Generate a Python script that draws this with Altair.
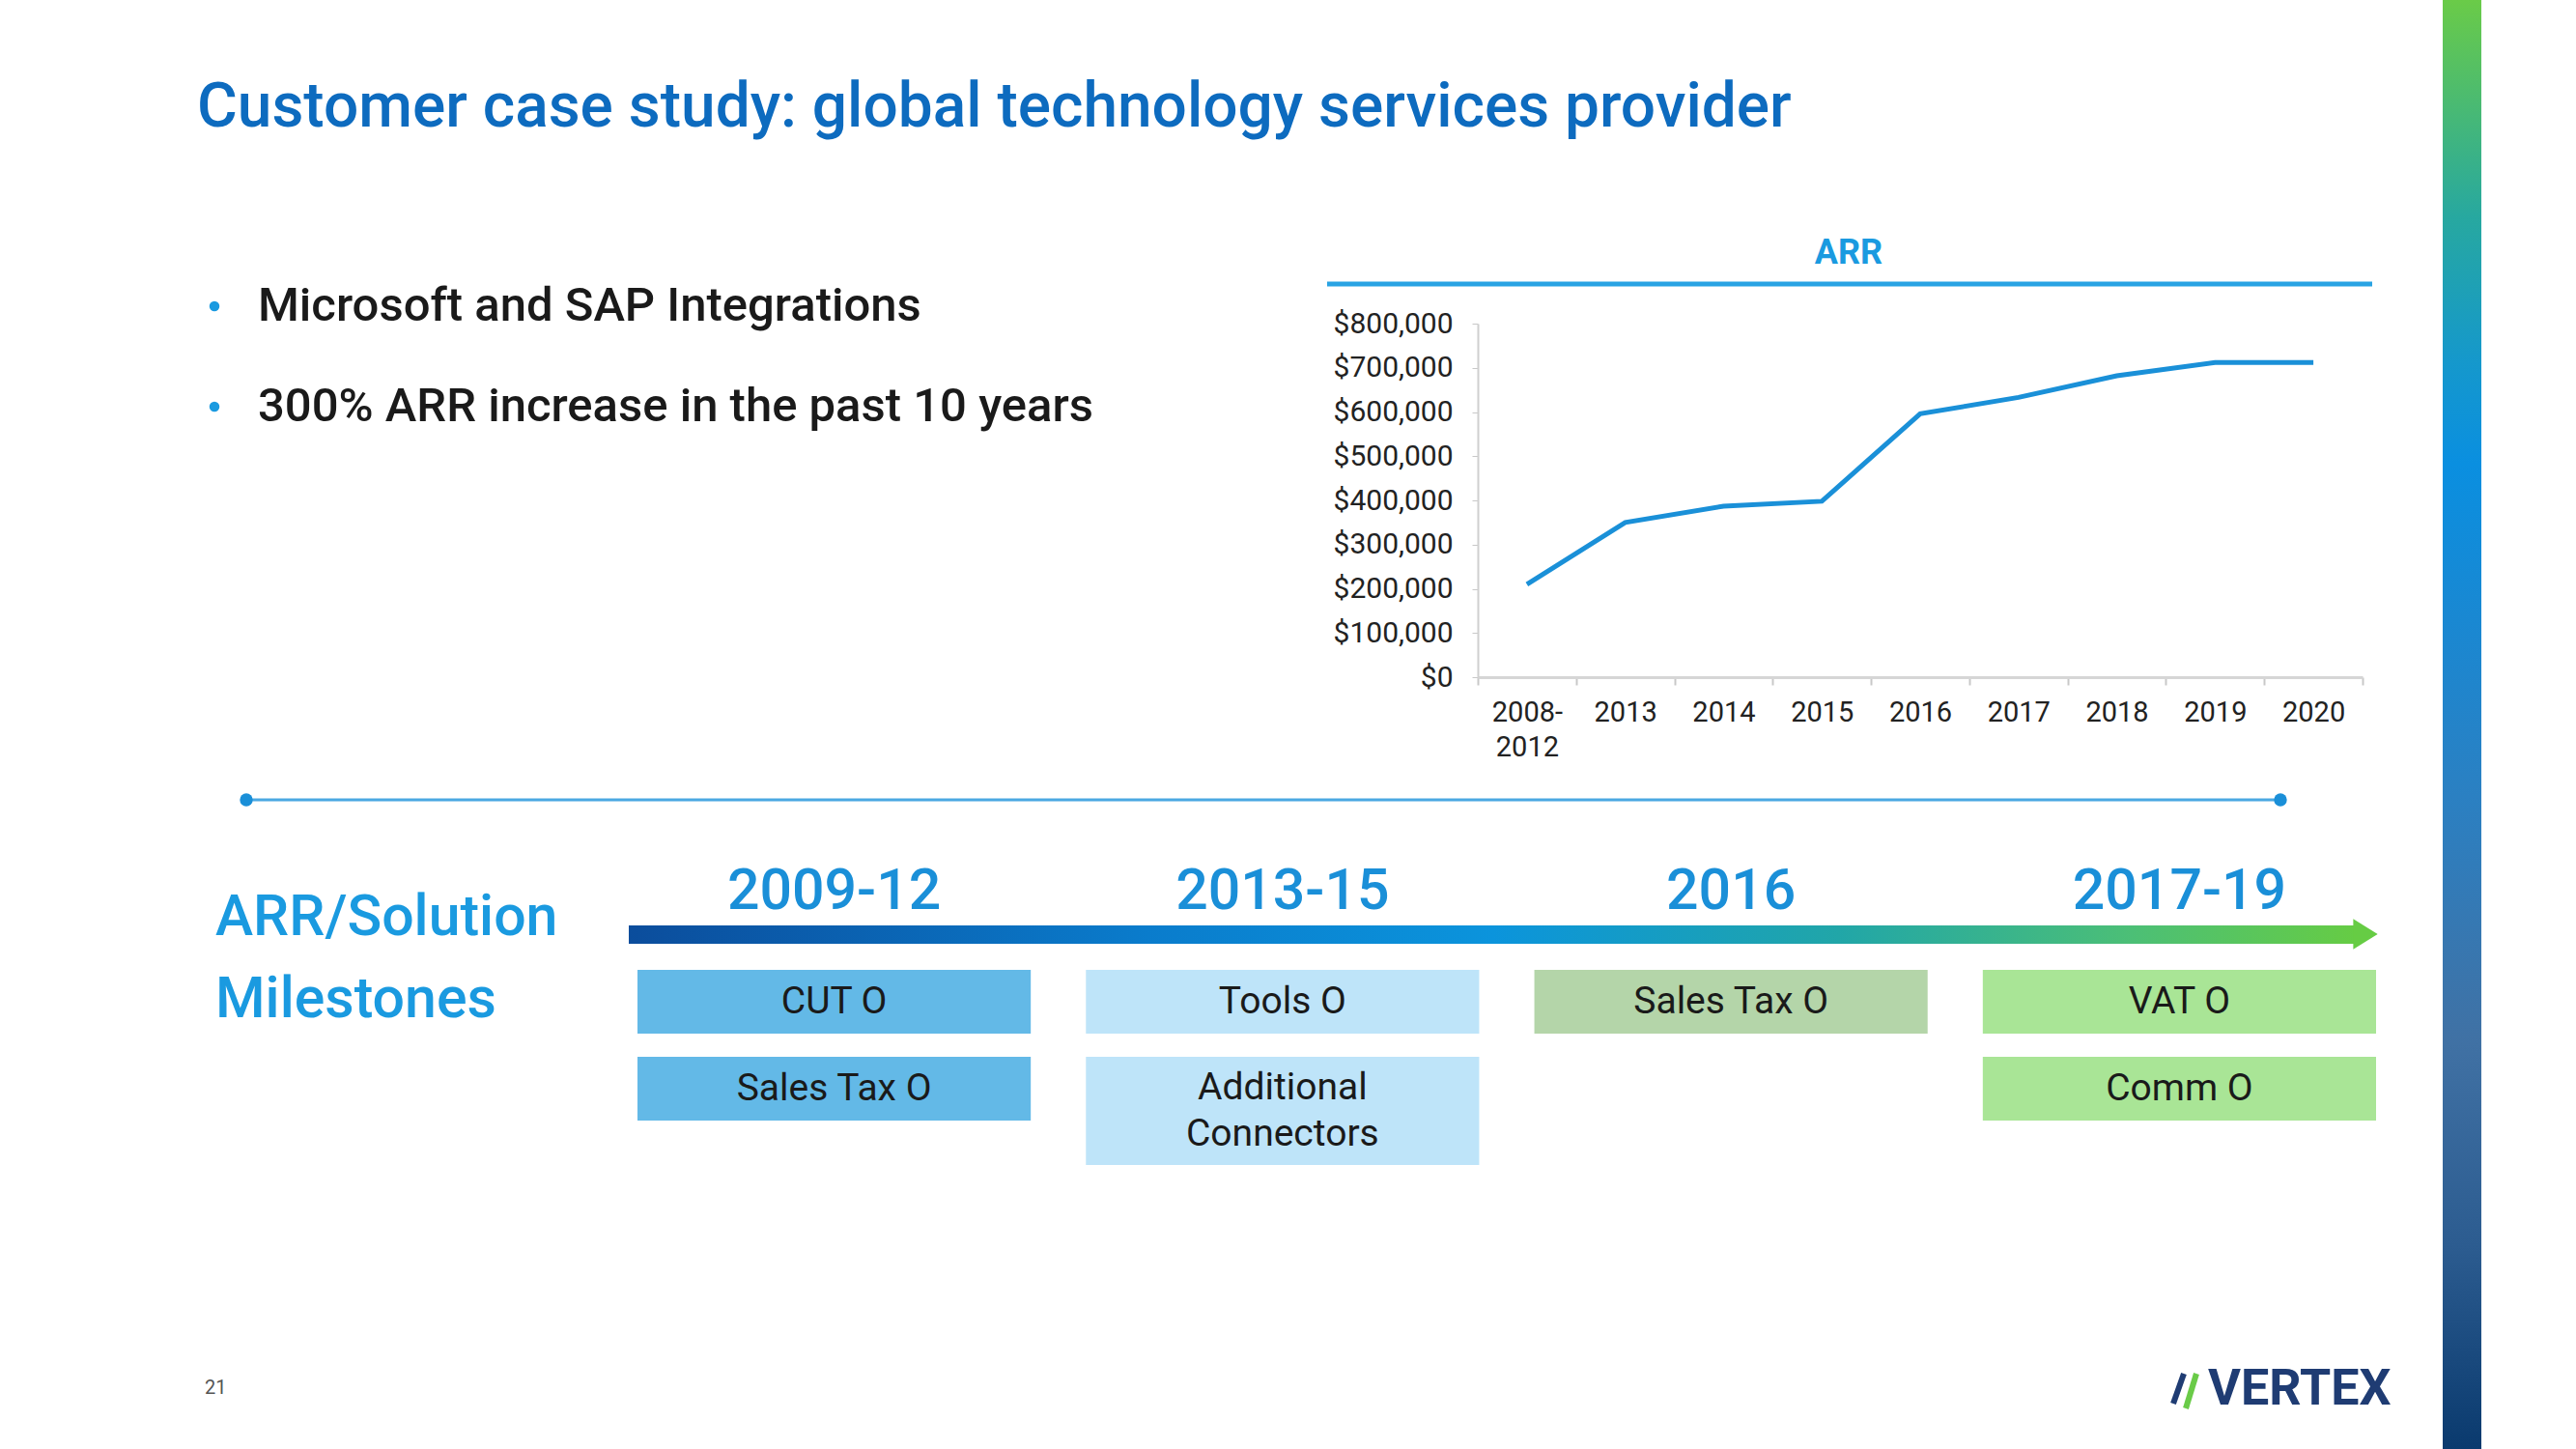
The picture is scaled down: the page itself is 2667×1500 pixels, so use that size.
import altair as alt
import pandas as pd

W, H = 2667, 1500
FONT = "Roboto"

# ---------------- data ----------------
years = ["2008-2012", "2013", "2014", "2015", "2016", "2017", "2018", "2019", "2020"]
arr_values = [210000, 350000, 387000, 398000, 596000, 633000, 682000, 712000, 712000]
y_ticks = [0, 100000, 200000, 300000, 400000, 500000, 600000, 700000, 800000]

periods = ["2009-12", "2013-15", "2016", "2017-19"]
period_colors = ["#63b9e7", "#bee4f9", "#b4d5a9", "#a9e596"]

box_period = ["2009-12", "2009-12", "2013-15", "2013-15", "2016", "2017-19", "2017-19"]
box_row = [1, 2, 1, 2, 1, 1, 2]
box_label = ["CUT O", "Sales Tax O", "Tools O", "Additional\nConnectors", "Sales Tax O", "VAT O", "Comm O"]
box_lines = [1, 1, 1, 2, 1, 1, 1]

title_text = "Customer case study: global technology services provider"
bullets = ["Microsoft and SAP Integrations", "300% ARR increase in the past 10 years"]
chart_title = "ARR"
section_title = ["ARR/Solution", "Milestones"]
page_number = "21"

# ---------------- helpers ----------------
one = pd.DataFrame({"k": [0]})


def text_at(txt, x, y, size, color="#1a1a1a", weight="normal", align="left", font=FONT, style="normal"):
    return alt.Chart(one).mark_text(
        text=txt, align=align, baseline="middle", fontSize=size, font=font,
        fontWeight=weight, color=color, fontStyle=style
    ).encode(x=alt.value(x), y=alt.value(y))


layers = []

# slide title
layers.append(text_at(title_text, 204, 112, 64, color="#0d6bbf", weight=500))

# bullets
for i, b in enumerate(bullets):
    yy = 317 + i * 104
    layers.append(alt.Chart(one).mark_circle(size=110, color="#1a9ae0", opacity=1).encode(
        x=alt.value(222), y=alt.value(yy)))
    layers.append(text_at(b, 267, yy, 49, color="#1a1a1a", weight=500))

# ARR chart header + underline
layers.append(text_at(chart_title, 1914, 262, 36, color="#1a9ae0", weight="bold", align="center"))
layers.append(alt.Chart(one).mark_rule(color="#29a3e3", strokeWidth=5).encode(
    x=alt.value(1374), x2=alt.value(2456), y=alt.value(294)))

# ARR line chart (own scales placed in the slide)
arr_df = pd.DataFrame({"year": years, "arr": arr_values})
label_expr = "datum.value == '2008-2012' ? ['2008-', '2012'] : datum.label"
arr_line = alt.Chart(arr_df).mark_line(color="#1a90d8", strokeWidth=5).encode(
    x=alt.X("year:N", sort=years, bandPosition=0.5,
            scale=alt.Scale(type="band", domain=years, range=[1530, 2446], paddingInner=0, paddingOuter=0),
            axis=alt.Axis(orient="bottom", offset=-799, title=None, tickBand="extent", labelAngle=0,
                          labelFontSize=29, labelColor="#222222", labelFont=FONT, labelExpr=label_expr,
                          labelLineHeight=36, domainColor="#d6d6d6", domainWidth=3, tickColor="#c8c8c8",
                          tickSize=8, tickWidth=2, labelPadding=14, grid=False)),
    y=alt.Y("arr:Q",
            scale=alt.Scale(domain=[0, 800000], range=[701, 335], nice=False),
            axis=alt.Axis(orient="left", offset=-1530, title=None, values=y_ticks, format="$,.0f",
                          labelFontSize=30, labelColor="#222222", labelFont=FONT, domainColor="#d0d0d0",
                          domainWidth=2, tickColor="#c8c8c8", tickSize=6, labelPadding=20, grid=False)),
)
layers.append(arr_line)

# separator line with end dots
layers.append(alt.Chart(one).mark_rule(color="#4aa8e2", strokeWidth=3).encode(
    x=alt.value(255), x2=alt.value(2361), y=alt.value(828)))
for xx in (255, 2361):
    layers.append(alt.Chart(one).mark_circle(size=180, color="#1a8fd8", opacity=1).encode(
        x=alt.value(xx), y=alt.value(828)))

# section title
layers.append(text_at(section_title[0], 223, 950, 59, color="#1a9ae0", weight=500))
layers.append(text_at(section_title[1], 223, 1035, 59, color="#1a9ae0", weight=500))

# timeline gradient arrow
grad_h = alt.LinearGradient(
    gradient="linear", x1=0, x2=1, y1=0, y2=0,
    stops=[alt.GradientStop(color="#0b4d9c", offset=0),
           alt.GradientStop(color="#0a7ccc", offset=0.3),
           alt.GradientStop(color="#0b94dc", offset=0.5),
           alt.GradientStop(color="#21a6a8", offset=0.7),
           alt.GradientStop(color="#4cbf76", offset=0.87),
           alt.GradientStop(color="#66cc44", offset=1)])
layers.append(alt.Chart(one).mark_rect(fill=grad_h).encode(
    x=alt.value(651), x2=alt.value(2440), y=alt.value(958), y2=alt.value(977)))
layers.append(alt.Chart(one).mark_point(
    shape="M -0.8 -1 L 0.8 0 L -0.8 1 Z", filled=True, size=1000, color="#66cc44", opacity=1
).encode(x=alt.value(2449), y=alt.value(967)))

# period labels + milestone boxes (share a band scale over periods)
band_scale = alt.Scale(type="band", domain=periods, range=[660, 2460], paddingInner=0.123, paddingOuter=0)
per_df = pd.DataFrame({"period": periods})
layers.append(alt.Chart(per_df).mark_text(fontSize=59, font=FONT, fontWeight=500, color="#1a8fd8",
                                          baseline="middle").encode(
    x=alt.X("period:N", sort=periods, scale=band_scale, bandPosition=0.5, axis=None),
    y=alt.value(923), text="period:N"))

boxes = pd.DataFrame({"period": box_period, "row": box_row, "label": box_label, "lines": box_lines})
ROW_STEP, BOX_H, LINE_EXTRA, LINE_H = 90, 66, 46, 48
box_base = alt.Chart(boxes).transform_calculate(
    top=f"(datum.row - 1) * {ROW_STEP}",
    bottom=f"(datum.row - 1) * {ROW_STEP} + {BOX_H} + (datum.lines - 1) * {LINE_EXTRA}",
).transform_calculate(
    mid=f"(datum.top + datum.bottom) / 2 - (datum.lines - 1) * {LINE_H} / 2"
)
y_box = alt.Scale(domain=[0, 202], range=[1004, 1206], nice=False, zero=False)
layers.append(box_base.mark_rect().encode(
    x=alt.X("period:N", sort=periods, scale=band_scale, axis=None),
    y=alt.Y("top:Q", scale=y_box, axis=None), y2="bottom:Q",
    fill=alt.Color("period:N", scale=alt.Scale(domain=periods, range=period_colors), legend=None)))
layers.append(box_base.mark_text(fontSize=39, font=FONT, color="#1a1a1a", baseline="middle",
                                 lineBreak="\n", lineHeight=LINE_H).encode(
    x=alt.X("period:N", sort=periods, scale=band_scale, bandPosition=0.5, axis=None),
    y=alt.Y("mid:Q", scale=y_box, axis=None), text="label:N"))

# right vertical gradient bar
grad_v = alt.LinearGradient(
    gradient="linear", x1=0, x2=0, y1=0, y2=1,
    stops=[alt.GradientStop(color="#6acb48", offset=0),
           alt.GradientStop(color="#27a8a0", offset=0.15),
           alt.GradientStop(color="#1598cc", offset=0.25),
           alt.GradientStop(color="#0a8fe0", offset=0.32),
           alt.GradientStop(color="#2b80c2", offset=0.55),
           alt.GradientStop(color="#4071a4", offset=0.72),
           alt.GradientStop(color="#2c5c90", offset=0.86),
           alt.GradientStop(color="#0a3a6e", offset=1)])
layers.append(alt.Chart(one).mark_rect(fill=grad_v).encode(
    x=alt.value(2529), x2=alt.value(2569), y=alt.value(0), y2=alt.value(H)))

# footer
layers.append(text_at(page_number, 212, 1437, 20, color="#555555", align="left"))
layers.append(alt.Chart(one).mark_rule(color="#1f3c73", strokeWidth=6).encode(
    x=alt.value(2250), y=alt.value(1453), x2=alt.value(2261), y2=alt.value(1422)))
layers.append(alt.Chart(one).mark_rule(color="#6acb48", strokeWidth=6).encode(
    x=alt.value(2263), y=alt.value(1458), x2=alt.value(2274), y2=alt.value(1422)))
layers.append(text_at("VERTEX", 2286, 1438, 52, color="#1f3c73", weight="bold"))

chart = alt.layer(*layers).resolve_scale(
    x="independent", y="independent", color="independent"
).properties(
    width=W, height=H, padding=0, autosize=alt.AutoSizeParams(type="none"), background="white"
).configure_view(stroke=None)

chart.save("out.html", embed_options={"renderer": "svg", "actions": False})
